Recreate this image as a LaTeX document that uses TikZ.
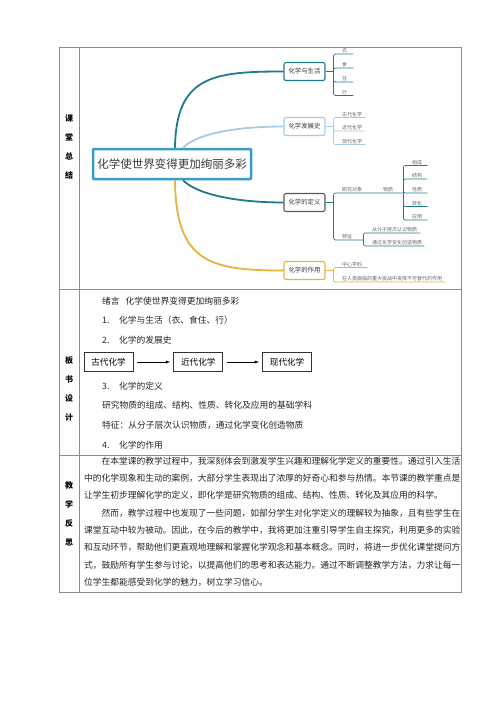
\documentclass[tikz,border=0pt]{standalone}
\usepackage{fontspec}
\setmainfont{Noto Sans CJK SC}
\usepackage{tikz}
\usetikzlibrary{arrows.meta,positioning,calc}
\usepackage{xcolor}
\definecolor{mapteal}{HTML}{1F7A8C}
\definecolor{mapsky}{HTML}{A6CBE8}
\definecolor{mapgold}{HTML}{E6B43C}
\definecolor{mapcore}{HTML}{3A9DC5}
\definecolor{rulegray}{HTML}{8C8C8C}
\definecolor{inkgray}{HTML}{3A3A3A}

\tikzset{
  core/.style={draw=mapcore, line width=2.5pt, rounded corners=1pt, fill=white,
    minimum width=158pt, minimum height=30pt, inner sep=0pt, text=inkgray,
    font=\fontsize{11.5}{12}\selectfont},
  branch/.style={draw=#1, line width=1.1pt, rounded corners=2pt, fill=white,
    minimum width=41pt, minimum height=18pt, inner sep=0pt, text=inkgray,
    font=\fontsize{6.4}{7}\selectfont},
  leaf/.style={anchor=south west, text width=#1, align=left, inner xsep=0pt,
    inner ysep=0.8pt, text=black!60, font=\fontsize{5}{5.5}\selectfont},
  twig/.style={draw=#1, line width=0.7pt, rounded corners=2pt},
  stem/.style={draw=#1, line width=1.8pt},
  labelchar/.style={inner sep=0pt, font=\fontsize{8}{8}\selectfont\bfseries},
  bodyline/.style={anchor=west, inner sep=0pt, text=black!85,
    font=\fontsize{8.75}{9}\selectfont},
  stagebox/.style={draw=black!80, line width=0.8pt, minimum width=49pt,
    minimum height=19.5pt, inner sep=0pt, font=\fontsize{8.6}{9}\selectfont},
}

\begin{document}
\begin{tikzpicture}[x=1pt, y=-1pt]
\fill[white] (0,0) rectangle (500,707);
\useasboundingbox (0,0) rectangle (500,707);

% table frame
\draw[rulegray, line width=0.8pt] (59,47) rectangle (461,592);
\draw[rulegray, line width=0.8pt] (79,47) -- (79,592) (59,289) -- (461,289) (59,455) -- (461,455);

% row labels
\foreach \c [count=\i] in {课,堂,总,结} \node[labelchar] (sum-\i) at (69,{118+19.3*(\i-1)}) {\c};
\foreach \c [count=\i] in {板,书,设,计} \node[labelchar] (board-\i) at (69,{360+19.3*(\i-1)}) {\c};
\foreach \c [count=\i] in {教,学,反,思} \node[labelchar] (refl-\i) at (69,{485+19.3*(\i-1)}) {\c};

% mind map
\node[core] (core) at (172,164) {化学使世界变得更加绚丽多彩};
\node[branch=mapteal] (life) at (304.5,71.5) {化学与生活};
\node[branch=mapsky] (hist) at (304.5,126.5) {化学发展史};
\node[branch=black!65] (defn) at (304.5,202.5) {化学的定义};
\node[branch=mapgold] (role) at (304.5,270.5) {化学的作用};

\draw[stem=mapteal] ($(core.north)+(3,0)$) .. controls +(1,-72) and +(-70,0) .. (life.west);
\draw[stem=mapsky] ($(core.north)+(11,0)$) .. controls +(15,-15) and +(-44,0) .. (hist.west);
\draw[stem=mapteal] ($(core.south)+(11,0)$) .. controls +(15,15) and +(-44,0) .. (defn.west);
\draw[stem=mapgold] ($(core.south)+(3,0)$) .. controls +(1,82) and +(-74,0) .. (role.west);

\foreach \b/\c in {life/mapteal,hist/mapsky,defn/mapteal,role/mapgold} {
    \coordinate (\b-j) at ($(\b.east)+(8,0)$);
    \draw[twig=\c] (\b.east) -- (\b-j);
}

\foreach \t/\y [count=\i] in {衣/54,食/68,住/82,行/95.5} {
    \node[leaf=11pt] (life-\i) at (342,\y) {\t};
    \draw[twig=mapteal] (life-j) |- (life-\i.south east);
}
\foreach \t/\y [count=\i] in {古代化学/117.5,近代化学/131,现代化学/144.5} {
    \node[leaf=23pt] (hist-\i) at (342,\y) {\t};
    \draw[twig=mapsky] (hist-j) |- (hist-\i.south east);
}
\node[leaf=28pt] (obj) at (342,193) {研究对象};
\node[leaf=20pt] (mat) at (383,193) {物质};
\draw[twig=mapteal] (defn-j) |- (mat.south east);
\foreach \t/\y [count=\i] in {组成/165.5,结构/179,性质/193,转化/206.5,应用/220} {
    \node[leaf=15pt] (comp-\i) at (412,\y) {\t};
    \draw[twig=mapteal] (mat.south east) |- (comp-\i.south east);
}
\node[leaf=21pt] (feat) at (342,240) {特征};
\draw[twig=mapteal] (defn-j) |- (feat.south east);
\foreach \t/\y/\w [count=\i] in {从分子层次认识物质/233/48,通过化学变化创造物质/246/52} {
    \node[leaf=\w pt] (feat-\i) at (372,\y) {\t};
    \draw[twig=mapteal] (feat.south east) |- (feat-\i.south east);
}
\foreach \t/\y/\w [count=\i] in {中心学科/267.5/25,在人类面临的重大挑战中发挥不可替代的作用/282/103} {
    \node[leaf=\w pt] (role-\i) at (342,\y) {\t};
    \draw[twig=mapgold] (role-j) |- (role-\i.south east);
}

% board design
\node[bodyline] (intro) at (102,301) {绪言\hspace{6pt}化学使世界变得更加绚丽多彩};
\foreach \n/\t/\y [count=\i] in {1./化学与生活（衣、食住、行）/320,2./化学的发展史/340,3./化学的定义/386,4./化学的作用/445} {
    \node[bodyline] (num-\i) at (102,\y) {\n};
    \node[bodyline] (head-\i) at (119,\y) {\t};
}
\node[stagebox] (ancient) at (108.5,362) {古代化学};
\node[stagebox, right=40pt of ancient] (recent) {近代化学};
\node[stagebox, right=39pt of recent] (modern) {现代化学};
\draw[-{Latex[length=4.5pt,width=3pt]}, line width=0.6pt, shorten <=4pt, shorten >=3pt] (ancient) -- (recent);
\draw[-{Latex[length=4.5pt,width=3pt]}, line width=0.6pt, shorten <=4pt, shorten >=3pt] (recent) -- (modern);
\node[bodyline] (define) at (102,405) {研究物质的组成、结构、性质、转化及应用的基础学科};
\node[bodyline] (trait) at (102,425) {特征：从分子层次认识物质，通过化学变化创造物质};

% reflection
\foreach \dx/\t [count=\i] in {
    17.5/在本堂课的教学过程中，我深刻体会到激发学生兴趣和理解化学定义的重要性。通过引入生活,
    0/中的化学现象和生动的案例，大部分学生表现出了浓厚的好奇心和参与热情。本节课的教学重点是,
    0/让学生初步理解化学的定义，即化学是研究物质的组成、结构、性质、转化及其应用的科学。,
    17.5/然而，教学过程中也发现了一些问题，如部分学生对化学定义的理解较为抽象，且有些学生在,
    0/课堂互动中较为被动。因此，在今后的教学中，我将更加注重引导学生自主探究，利用更多的实验,
    0/和互动环节，帮助他们更直观地理解和掌握化学观念和基本概念。同时，将进一步优化课堂提问方,
    0/式，鼓励所有学生参与讨论，以提高他们的思考和表达能力。通过不断调整教学方法，力求让每一,
    0/位学生都能感受到化学的魅力，树立学习信心。}
    \node[bodyline] (para-\i) at ({84+\dx},{461+17.33*(\i-1)}) {\t};
\end{tikzpicture}
\end{document}
